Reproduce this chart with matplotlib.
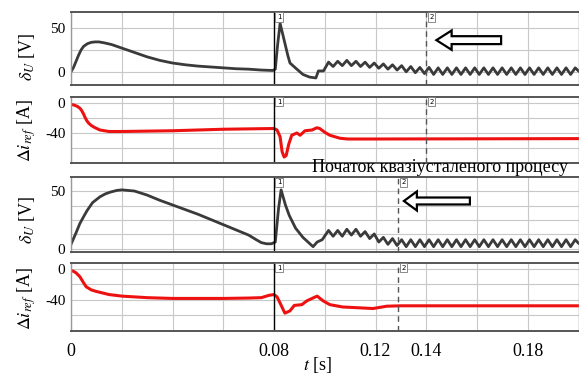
import matplotlib
matplotlib.use("Agg")
import matplotlib.pyplot as plt
from matplotlib.patches import FancyArrow

plt.rcParams['font.family'] = ['Liberation Serif', 'DejaVu Serif']
plt.rcParams['mathtext.fontset'] = 'stix'

# time axis
x_ticks = [0, 0.02, 0.04, 0.06, 0.08, 0.10, 0.12, 0.14, 0.16, 0.18, 0.20]
x_labels = ['0', '', '', '', '0.08', '', '0.12', '0.14', '', '0.18', '']

# ripple instants (read from the zigzag, shared by both voltage plots)
rip_t = [0.1015, 0.1033, 0.1051, 0.1069, 0.1087, 0.1105, 0.1123, 0.1141, 0.1159, 0.1177,
         0.1195, 0.1213, 0.1231, 0.1249, 0.1267, 0.1285, 0.1303, 0.1321, 0.1339, 0.1357,
         0.1375, 0.1393, 0.1411, 0.1429, 0.1447, 0.1465, 0.1483, 0.1501, 0.1519, 0.1537,
         0.1555, 0.1573, 0.1591, 0.1609, 0.1627, 0.1645, 0.1663, 0.1681, 0.1699, 0.1717,
         0.1735, 0.1753, 0.1771, 0.1789, 0.1807, 0.1825, 0.1843, 0.1861, 0.1879, 0.1897,
         0.1915, 0.1933, 0.1951, 0.1969, 0.1987, 0.2]

# panel 1: delta U, case 1
t1 = [0, 0.001, 0.002, 0.003, 0.004, 0.005, 0.0065, 0.008, 0.0095, 0.011, 0.013, 0.016,
      0.02, 0.025, 0.03, 0.035, 0.04, 0.045, 0.05, 0.055, 0.06, 0.065, 0.07, 0.075,
      0.0795, 0.0805, 0.0814, 0.0824, 0.0835, 0.0845, 0.0855, 0.0863, 0.089, 0.0914,
      0.094, 0.0965, 0.0975, 0.0995]
v1 = [0, 5, 12, 19, 25, 29, 32, 33.5, 34, 34, 33, 31,
      27, 22, 17, 13, 10, 8, 6.5, 5.5, 4.5, 3.5, 3, 2,
      1.5, 3, 30, 55, 42, 30, 18, 10, 3, -3,
      -6, -7, 1, 1]
rip1 = [11, 6, 12, 7, 13, 7, 12, 6, 11, 5,
        10, 4, 9, 3, 8, 2, 7, 0, 6, -1,
        5, -2, 5, -3, 4.5, -3, 4.5, -3, 4.5, -3,
        4.5, -3, 4.5, -3, 4.5, -3, 4.5, -3, 4.5, -3,
        4.5, -3, 4.5, -3, 4.5, -3, 4.5, -3, 4.5, -3,
        4.5, -3, 4.5, -3, 4.5, 1]

# panel 2: delta i_ref, case 1
t2 = [0, 0.001, 0.0025, 0.0035, 0.0042, 0.005, 0.0055, 0.0063, 0.007, 0.008, 0.0095,
      0.0114, 0.015, 0.02, 0.03, 0.04, 0.05, 0.06, 0.07, 0.08, 0.0812, 0.0824, 0.0832,
      0.084, 0.0848, 0.0858, 0.087, 0.089, 0.0903, 0.0922, 0.095, 0.0969, 0.098, 0.1,
      0.102, 0.104, 0.106, 0.109, 0.12, 0.2]
v2 = [-2, -2.5, -4.5, -7, -10, -15, -19, -24, -27, -30, -33,
      -36, -38, -38, -37.5, -37, -36, -35, -34.5, -34, -36, -45, -65,
      -72, -70, -55, -43, -40, -43, -37, -36, -33, -34, -39,
      -43, -45, -47, -48, -48, -47.5]

# panel 3: delta U, case 2
t3 = [0, 0.001, 0.002, 0.0035, 0.005, 0.0063, 0.0085, 0.0114, 0.0135, 0.0154, 0.018,
      0.02, 0.025, 0.03, 0.035, 0.04, 0.045, 0.05, 0.055, 0.06, 0.065, 0.07, 0.073,
      0.075, 0.077, 0.079, 0.0805, 0.0818, 0.0828, 0.0845, 0.086, 0.0885, 0.0914,
      0.0954, 0.097, 0.099]
v3 = [4, 9, 14, 22, 28, 33, 40, 45, 47.5, 49, 50.5,
      51, 50, 46.5, 42, 38, 34, 30, 25.5, 21, 16.5, 12, 8,
      5.5, 4.5, 4.5, 6, 35, 51, 38, 29, 18, 10,
      2, 6, 8]
rip3 = [16, 11, 16, 11, 17, 12, 17, 11, 15, 9,
        13, 6, 10, 4, 9, 3, 8, 2, 8, 2,
        8, 2, 8, 2, 8, 2, 8, 2, 8, 2,
        8, 2, 8, 2, 8, 2, 8, 2, 8, 2,
        8, 2, 8, 2, 8, 2, 8, 2, 8, 2,
        8, 2, 8, 2, 8, 5]

# panel 4: delta i_ref, case 2
t4 = [0, 0.001, 0.002, 0.0035, 0.0048, 0.006, 0.008, 0.01, 0.015, 0.02, 0.03, 0.04,
      0.06, 0.07, 0.075, 0.078, 0.08, 0.0812, 0.0824, 0.0843, 0.0863, 0.088, 0.091,
      0.093, 0.097, 0.0993, 0.102, 0.107, 0.119, 0.1245, 0.13, 0.2]
v4 = [-2, -3, -5, -10, -17, -23, -27, -29, -33, -35, -37, -38,
      -38, -37.5, -37, -34, -33, -36, -44, -57, -54, -47, -46,
      -41, -35, -41, -46, -49, -51, -48, -47.5, -47.5]

# cursor positions (1 - disturbance, 2 - start of quasi-steady state)
cur1 = [0.08, 0.08, 0.08, 0.08]
cur2 = [0.14, 0.14, 0.129, 0.129]

grey = '#3a3a3a'
red = '#ee1111'

fig = plt.figure(figsize=(5.79, 3.74), dpi=100)
left, width = 71 / 579, 507.5 / 579
ax1 = fig.add_axes([left, 1 - 85 / 374, width, 73 / 374])
ax2 = fig.add_axes([left, 1 - 163 / 374, width, 66 / 374])
ax3 = fig.add_axes([left, 1 - 252 / 374, width, 75 / 374])
ax4 = fig.add_axes([left, 1 - 331 / 374, width, 68 / 374])
axes = [ax1, ax2, ax3, ax4]

ax1.plot(t1 + rip_t, v1 + rip1, color=grey, lw=2)
ax2.plot(t2, v2, color=red, lw=2.2)
ax3.plot(t3 + rip_t, v3 + rip3, color=grey, lw=2)
ax4.plot(t4, v4, color=red, lw=2.2)

ax1.set_ylim(-15, 68)
ax2.set_ylim(-80, 8)
ax3.set_ylim(-2.6, 62.1)
ax4.set_ylim(-80, 7.7)

ax1.set_yticks([0, 25, 50], ['0', '', '50'])
ax2.set_yticks([0, -20, -40, -60], ['0', '', '-40', ''])
ax3.set_yticks([0, 12.5, 25, 37.5, 50], ['0', '', '', '', '50'])
ax4.set_yticks([0, -20, -40, -60], ['0', '', '-40', ''])

for i, ax in enumerate(axes):
    ax.set_xlim(0, 0.2)
    ax.set_xticks(x_ticks)
    if i == 3:
        ax.set_xticklabels(x_labels)
    else:
        ax.set_xticklabels([])
    ax.grid(True, color='#c8c8c8', lw=0.8)
    ax.set_axisbelow(True)
    ax.tick_params(axis='both', length=0, labelsize=11, pad=4)
    ax.tick_params(axis='x', labelsize=13, pad=9)
    for s in ['top', 'bottom']:
        ax.spines[s].set_color('#555555')
        ax.spines[s].set_linewidth(1.4)
    for s in ['left', 'right']:
        ax.spines[s].set_color('#999999')
        ax.spines[s].set_linewidth(1.0)
    ax.axvline(cur1[i], color='black', lw=1)
    ax.axvline(cur2[i], color='#555555', lw=1, ls=(0, (4, 3)))
    for c, lab in [(cur1[i], '1'), (cur2[i], '2')]:
        ax.text(c + 0.0012, 0.93, lab, transform=ax.get_xaxis_transform(),
                fontsize=5, ha='left', va='center', family='DejaVu Sans',
                bbox=dict(boxstyle='square,pad=0.25', fc='white', ec='#777777', lw=0.6))

# hollow arrows pointing at cursor 2
ax1.add_patch(FancyArrow(0.1695, 36, -0.0255, 0, width=9, head_width=22,
                         head_length=0.006, length_includes_head=True,
                         fc='white', ec='black', lw=1.6, clip_on=False))
ax3.add_patch(FancyArrow(0.1572, 41.4, -0.026, 0, width=6, head_width=16.4,
                         head_length=0.0051, length_includes_head=True,
                         fc='white', ec='black', lw=1.6, clip_on=False))

# axis labels
fig.text(27 / 579, 1 - 57 / 374, r'$\delta_U$ [V]', rotation=90, ha='center', va='center', fontsize=13)
fig.text(27 / 579, 1 - 131 / 374, r'$\mathit{\Delta i_{ref}}$ [A]', rotation=90, ha='center', va='center', fontsize=13)
fig.text(27 / 579, 1 - 220 / 374, r'$\delta_U$ [V]', rotation=90, ha='center', va='center', fontsize=13)
fig.text(27 / 579, 1 - 299 / 374, r'$\mathit{\Delta i_{ref}}$ [A]', rotation=90, ha='center', va='center', fontsize=13)
fig.text(318 / 579, 1 - 365 / 374, r'$t$ [s]', ha='center', va='center', fontsize=13)

fig.text(440 / 579, 1 - 168 / 374, 'Початок квазіусталеного процесу',
         ha='center', va='center', fontsize=13)

fig.savefig('out.png', dpi=100)
